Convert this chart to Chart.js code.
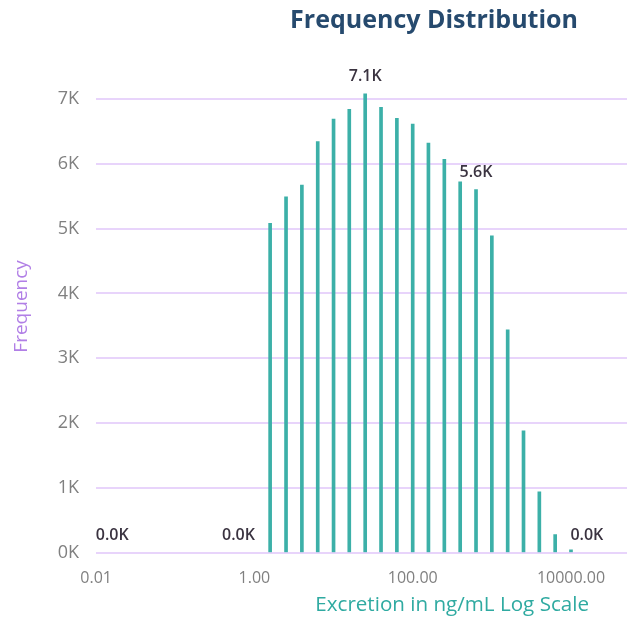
<!DOCTYPE html>
<html>
<head>
<meta charset="utf-8">
<script src="https://cdn.jsdelivr.net/npm/chart.js@4"></script>
<style>
  html, body { margin: 0; padding: 0; background: #ffffff; overflow: hidden; }
  #wrap { width: 627px; height: 619px; position: relative; }
</style>
</head>
<body>
<div id="wrap"><canvas id="chart" width="627" height="619"></canvas></div>
<script>
// Bin centres (ng/mL), one per 0.2 decade
const binCenters = [0.016, 0.025, 0.04, 0.063, 0.1, 0.16, 0.25, 0.4, 0.63, 1.0,
  1.58, 2.51, 3.98, 6.31, 10, 15.8, 25.1, 39.8, 63.1, 100,
  158, 251, 398, 631, 1000, 1585, 2512, 3981, 6310, 10000, 15849];

// Number of samples in each bin
const counts = [0, 0, 0, 0, 0, 0, 0, 0, 0, 0,
  5080, 5490, 5670, 6340, 6690, 6840, 7080, 6870, 6700, 6610,
  6320, 6070, 5720, 5600, 4890, 3440, 1880, 940, 280, 45, 0];

// Bins that carry a value label
const labeledBins = [0.016, 0.63, 25.1, 631, 15849];

// Axis ticks
const xTicks = [0.01, 1, 100, 10000];
const yTicks = [0, 1000, 2000, 3000, 4000, 5000, 6000, 7000];

const chartTitle = 'Frequency Distribution';
const xTitle = 'Excretion in ng/mL Log Scale';
const FONT = "'Segoe UI', 'Open Sans', sans-serif";

// Value labels above selected bins
const valueLabels = {
  id: 'valueLabels',
  afterDatasetsDraw(chart) {
    const ctx = chart.ctx;
    const xs = chart.scales.x, ys = chart.scales.y;
    ctx.save();
    ctx.font = "600 16px " + FONT;
    ctx.fillStyle = '#3a3340';
    ctx.textAlign = 'center';
    ctx.textBaseline = 'bottom';
    binCenters.forEach((b, i) => {
      if (!labeledBins.includes(b)) return;
      ctx.fillText((counts[i] / 1000).toFixed(1) + 'K',
        xs.getPixelForValue(b), ys.getPixelForValue(counts[i]) - 9);
    });
    ctx.restore();
  }
};

// Chart title and x-axis title
const titles = {
  id: 'titles',
  afterDraw(chart) {
    const ctx = chart.ctx;
    const area = chart.chartArea;
    ctx.save();
    ctx.font = "bold 25px " + FONT;
    ctx.fillStyle = '#264a6e';
    ctx.textAlign = 'right';
    ctx.textBaseline = 'alphabetic';
    ctx.fillText(chartTitle, area.right - 49, 28);
    ctx.font = "20.6px " + FONT;
    ctx.fillStyle = '#2faaa1';
    ctx.textBaseline = 'middle';
    ctx.fillText(xTitle, area.right - 38, area.bottom + 52);
    ctx.restore();
  }
};

new Chart(document.getElementById('chart'), {
  type: 'bar',
  data: {
    datasets: [{
      data: binCenters.map((b, i) => ({ x: b, y: counts[i] > 0 ? counts[i] : null })),
      backgroundColor: '#3cb0a8',
      borderWidth: 0,
      barThickness: 3
    }]
  },
  options: {
    responsive: false,
    animation: false,
    layout: { padding: { left: 10, right: 0, top: 60, bottom: 23 } },
    plugins: {
      legend: { display: false },
      tooltip: { enabled: false },
      title: { display: false }
    },
    scales: {
      x: {
        type: 'logarithmic',
        min: 0.01,
        max: 51000,
        offset: false,
        afterBuildTicks(scale) { scale.ticks = xTicks.map(v => ({ value: v })); },
        ticks: {
          autoSkip: false,
          maxRotation: 0,
          padding: 8,
          color: '#808080',
          font: { family: FONT, size: 16 },
          callback: v => Number(v).toFixed(2)
        },
        grid: { display: false },
        border: { display: false }
      },
      y: {
        min: 0,
        max: 7600,
        afterBuildTicks(scale) { scale.ticks = yTicks.map(v => ({ value: v })); },
        ticks: {
          padding: 17,
          color: '#808080',
          font: { family: FONT, size: 18 },
          callback: v => (v / 1000) + 'K'
        },
        grid: { color: '#e8d4fb', lineWidth: 2, drawTicks: false },
        border: { display: false },
        title: {
          display: true,
          text: 'Frequency',
          color: '#b17fe6',
          font: { family: FONT, size: 19 },
          padding: { top: 0, bottom: 8 }
        }
      }
    }
  },
  plugins: [valueLabels, titles]
});
</script>
</body>
</html>
